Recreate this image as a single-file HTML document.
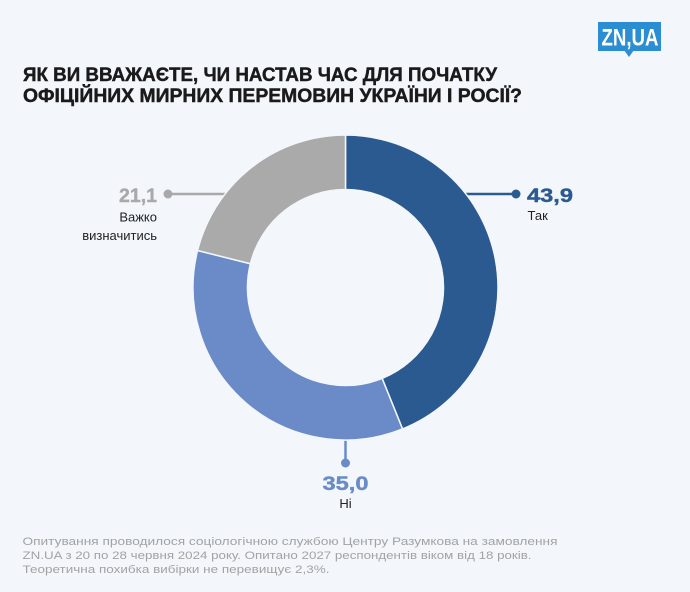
<!DOCTYPE html>
<html>
<head>
<meta charset="utf-8">
<style>
  html, body { margin: 0; padding: 0; background: #f3f7fc; }
  svg { display: block; }
  text { font-family: "Liberation Sans", "DejaVu Sans", sans-serif; }
</style>
</head>
<body>
<svg width="690" height="592" viewBox="0 0 690 592" xmlns="http://www.w3.org/2000/svg">
  <rect x="0" y="0" width="690" height="592" fill="#f3f7fc"/>

  <!-- Logo -->
  <rect x="598" y="22" width="63" height="29" fill="#2b8dd2"/>
  <polygon points="624,50 634,50 629,57" fill="#2b8dd2"/>
  <text x="601.5" y="45.5" font-size="24" font-weight="bold" fill="#ffffff" textLength="57" lengthAdjust="spacingAndGlyphs">ZN,UA</text>

  <!-- Title -->
  <text x="23" y="81" font-size="19" font-weight="bold" fill="#1a1a1a" stroke="#1a1a1a" stroke-width="0.45" textLength="474" lengthAdjust="spacingAndGlyphs">ЯК ВИ ВВАЖАЄТЕ, ЧИ НАСТАВ ЧАС ДЛЯ ПОЧАТКУ</text>
  <text x="23" y="102" font-size="19" font-weight="bold" fill="#1a1a1a" stroke="#1a1a1a" stroke-width="0.45" textLength="499" lengthAdjust="spacingAndGlyphs">ОФІЦІЙНИХ МИРНИХ ПЕРЕМОВИН УКРАЇНИ І РОСІЇ?</text>

  <!-- Leader lines (behind donut) -->
  <line x1="168" y1="194" x2="240" y2="194" stroke="#a9a9a9" stroke-width="2.5"/>
  <circle cx="168" cy="194" r="4.5" fill="#a9a9a9"/>
  <line x1="450" y1="194" x2="516" y2="194" stroke="#2a5a8f" stroke-width="2.5"/>
  <circle cx="516" cy="194" r="4.5" fill="#2a5a8f"/>
  <line x1="345.5" y1="420" x2="345.5" y2="463" stroke="#6a8bc8" stroke-width="2.5"/>
  <circle cx="345.5" cy="463" r="4.5" fill="#6a8bc8"/>

  <!-- Donut -->
  <path d="M345.5,135 A152.5,152.5 0 0 1 402.52,428.94 L382.14,378.40 A98,98 0 0 0 345.5,189.5 Z" fill="#2a5a8f" stroke="#f3f7fc" stroke-width="1.5" stroke-linejoin="round"/>
  <path d="M402.52,428.94 A152.5,152.5 0 0 1 197.56,250.50 L250.43,263.73 A98,98 0 0 0 382.14,378.40 Z" fill="#6a8bc8" stroke="#f3f7fc" stroke-width="1.5" stroke-linejoin="round"/>
  <path d="M197.56,250.50 A152.5,152.5 0 0 1 345.5,135 L345.5,189.5 A98,98 0 0 0 250.43,263.73 Z" fill="#aaaaaa" stroke="#f3f7fc" stroke-width="1.5" stroke-linejoin="round"/>

  <!-- Labels: Так -->
  <text x="527" y="202" font-size="19" font-weight="bold" fill="#2a5a8f" stroke="#2a5a8f" stroke-width="0.4" textLength="46" lengthAdjust="spacingAndGlyphs">43,9</text>
  <text x="527.5" y="220" font-size="13" fill="#222222">Так</text>

  <!-- Labels: Важко визначитись -->
  <text x="119" y="202" font-size="19" font-weight="bold" fill="#a9a9a9" stroke="#a9a9a9" stroke-width="0.4" textLength="38" lengthAdjust="spacingAndGlyphs">21,1</text>
  <text x="157" y="221.5" font-size="13" fill="#222222" text-anchor="end">Важко</text>
  <text x="157" y="240" font-size="13" fill="#222222" text-anchor="end">визначитись</text>

  <!-- Labels: Ні -->
  <text x="322.5" y="490" font-size="19" font-weight="bold" fill="#6a8bc8" stroke="#6a8bc8" stroke-width="0.4" textLength="46" lengthAdjust="spacingAndGlyphs">35,0</text>
  <text x="345.5" y="508" font-size="13" fill="#222222" text-anchor="middle">Ні</text>

  <!-- Footer -->
  <text x="22.5" y="545" font-size="11" fill="#a2a2a2" textLength="535" lengthAdjust="spacingAndGlyphs">Опитування проводилося  соціологічною службою Центру Разумкова на замовлення</text>
  <text x="22.5" y="559" font-size="11" fill="#a2a2a2" textLength="509" lengthAdjust="spacingAndGlyphs">ZN.UA з 20 по 28 червня 2024 року. Опитано 2027 респондентів віком від 18 років.</text>
  <text x="22.5" y="573" font-size="11" fill="#a2a2a2" textLength="307" lengthAdjust="spacingAndGlyphs">Теоретична похибка вибірки не перевищує 2,3%.</text>
</svg>
</body>
</html>
